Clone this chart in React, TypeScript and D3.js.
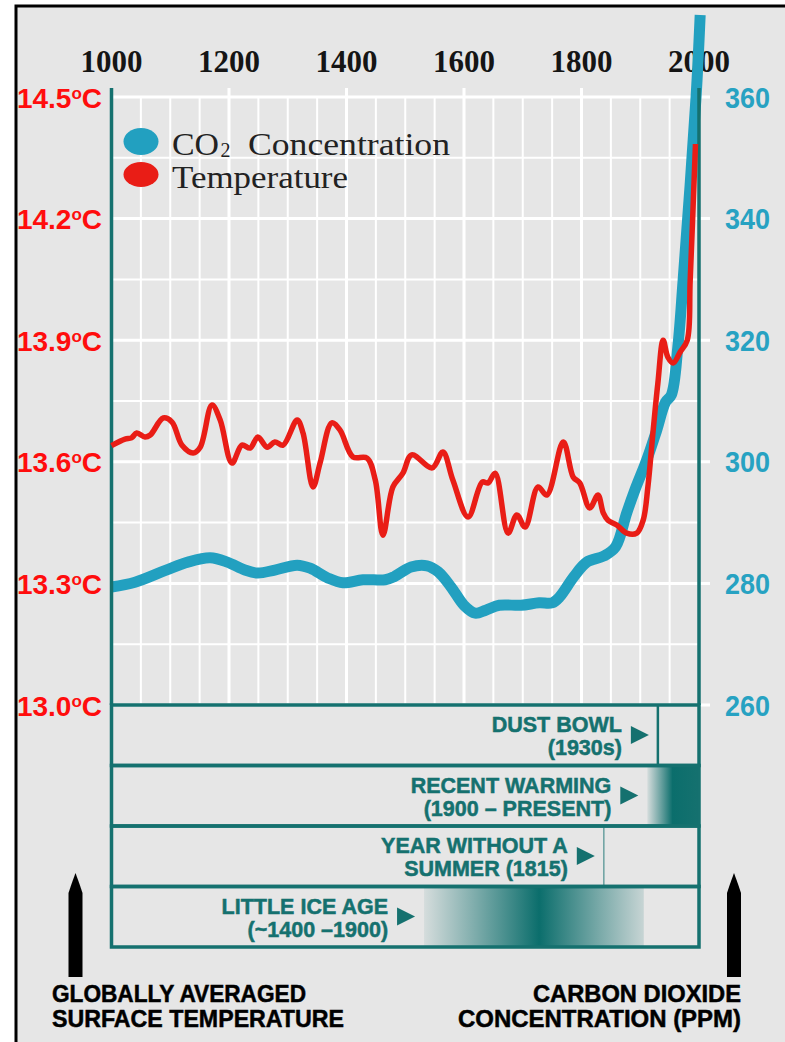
import React from 'react';
import * as d3 from 'd3';

// --- data ---
const yearTicks = [1000, 1200, 1400, 1600, 1800, 2000];
const tempTicks = [14.5, 14.2, 13.9, 13.6, 13.3, 13.0];
const co2Ticks = [360, 340, 320, 300, 280, 260];

const tempYears = [1000, 1023, 1034, 1043, 1057, 1066, 1088, 1103, 1120, 1139, 1151, 1171, 1185, 1205,
  1222, 1236, 1249, 1265, 1278, 1292, 1316, 1326, 1343, 1355, 1375, 1389, 1411, 1435, 1449, 1462,
  1479, 1496, 1511, 1546, 1564, 1581, 1607, 1631, 1641, 1653, 1675, 1690, 1704, 1726, 1741, 1769,
  1786, 1797, 1814, 1828, 1837, 1845, 1860, 1877, 1894, 1905, 1913, 1922, 1930, 1939, 1947, 1956,
  1968, 1980, 1985, 1994];
const tempValues = [13.64, 13.656, 13.659, 13.671, 13.661, 13.666, 13.708, 13.698, 13.641, 13.622,
  13.636, 13.74, 13.703, 13.597, 13.641, 13.634, 13.661, 13.636, 13.649, 13.641, 13.703, 13.671,
  13.538, 13.597, 13.696, 13.678, 13.612, 13.609, 13.555, 13.419, 13.538, 13.572, 13.617, 13.585,
  13.624, 13.555, 13.464, 13.55, 13.548, 13.572, 13.424, 13.469, 13.439, 13.538, 13.518, 13.649,
  13.562, 13.548, 13.486, 13.518, 13.474, 13.456, 13.444, 13.424, 13.424, 13.456, 13.538, 13.678,
  13.794, 13.9, 13.858, 13.844, 13.871, 13.9, 14.048, 14.384];

const co2Years = [1000, 1040, 1093, 1130, 1168, 1197, 1227, 1249, 1278, 1316, 1338, 1368, 1394, 1428,
  1466, 1481, 1510, 1537, 1556, 1578, 1600, 1619, 1637, 1660, 1697, 1728, 1750, 1763, 1787, 1809,
  1838, 1858, 1877, 1891, 1911, 1928, 1943, 1953, 1964, 1973, 1995, 2002];
const co2Values = [279.4, 280.2, 282.2, 283.5, 284.2, 283.5, 282.2, 281.7, 282.2, 283.0, 282.5, 280.9,
  280.1, 280.6, 280.6, 281.1, 282.7, 282.9, 281.9, 279.4, 276.4, 275.1, 275.6, 276.4, 276.4, 276.8,
  276.8, 277.8, 281.1, 283.5, 284.5, 286.0, 291.6, 295.4, 300.3, 305.2, 309.8, 311.0, 318.9, 329.9,
  360, 373.5];

const eventTitles = ['DUST BOWL', 'RECENT WARMING', 'YEAR WITHOUT A', 'LITTLE ICE AGE'];
const eventSubtitles = ['(1930s)', '(1900 \u2013 PRESENT)', 'SUMMER (1815)', '(~1400 \u20131900)'];
const eventKinds = ['line', 'band', 'line', 'band'];
const eventFrom = [1930, 1912, 1838, 1532];
const eventPeak = [1930, 1955, 1838, 1728];
const eventTo = [1930, 2000, 1838, 1906];
const eventEndOpacity = [1, 1, 1, 0.15];

const leftCaption = ['GLOBALLY AVERAGED', 'SURFACE TEMPERATURE'];
const rightCaption = ['CARBON DIOXIDE', 'CONCENTRATION (PPM)'];

const TEAL = '#15716f';
const BLUE = '#22a0c0';
const RED = '#e91d16';

export default function App() {
  const x = d3.scaleLinear().domain([1000, 2000]).range([111.5, 699]);
  const yT = d3.scaleLinear().domain([13, 14.5]).range([705, 97]);
  const yC = d3.scaleLinear().domain([260, 360]).range([705, 97]);

  const tempLine = d3.line<number>()
    .x((d, i) => x(tempYears[i]))
    .y((d) => yT(d))
    .curve(d3.curveCatmullRom.alpha(0.5));
  const co2Line = d3.line<number>()
    .x((d, i) => x(co2Years[i]))
    .y((d) => yC(d))
    .curve(d3.curveCatmullRom.alpha(0.5));

  const vGrid = d3.range(1050, 2000, 50);
  const hGrid = d3.range(260, 361, 10);
  const rowH = 60.5;
  const rowTop = (i: number) => 705 + i * rowH;
  const sans = 'Liberation Sans, Arial, sans-serif';
  const serif = 'Liberation Serif, serif';
  const pencil = (cx: number) =>
    `M${cx},873 L${cx + 4},884 L${cx + 7},893 L${cx + 7},977 L${cx - 7},977 L${cx - 7},893 L${cx - 4},884 Z`;

  return (
    <svg width={785} height={1042} style={{ position: 'absolute', left: 0, top: 0 }}>
      <defs>
        {eventKinds.map((k, i) => k === 'band' ? (
          <linearGradient key={i} id={`band${i}`} x1="0" x2="1" y1="0" y2="0">
            <stop offset="0" stopColor={TEAL} stopOpacity={0.08} />
            <stop offset={(eventPeak[i] - eventFrom[i]) / (eventTo[i] - eventFrom[i])} stopColor="#0b6e6c" stopOpacity={1} />
            <stop offset="1" stopColor={TEAL} stopOpacity={eventEndOpacity[i]} />
          </linearGradient>
        ) : null)}
      </defs>
      <rect x={16} y={6} width={800} height={1100} fill="#e6e6e6" stroke="#000" strokeWidth={3} />

      {/* grid */}
      {vGrid.map((yr) => (
        <line key={yr} x1={x(yr)} x2={x(yr)} y1={yr % 200 === 0 ? 88 : 97} y2={705}
          stroke="#fff" strokeWidth={yr % 200 === 0 ? 3 : 2} />
      ))}
      {hGrid.map((v) => (
        <line key={v} x1={x(1000)} x2={(v - 260) % 20 === 0 ? 710 : x(2000)} y1={yC(v)} y2={yC(v)}
          stroke="#fff" strokeWidth={(v - 260) % 20 === 0 ? 3 : 2} />
      ))}

      {/* x labels */}
      {yearTicks.map((yr) => (
        <text key={yr} x={x(yr)} y={72} textAnchor="middle" fontFamily={serif}
          fontWeight="bold" fontSize={31} fill="#151515">{yr}</text>
      ))}

      {/* left labels */}
      {tempTicks.map((t) => (
        <text key={t} x={102} y={yT(t) + 10.5} textAnchor="end" fontFamily={sans} fontWeight="bold"
          fontSize={28} fill="#ff0d0d">
          {t.toFixed(1)}<tspan fontSize={17} dy={-9}>o</tspan><tspan dy={9}>C</tspan>
        </text>
      ))}

      {/* right labels */}
      {co2Ticks.map((c) => (
        <text key={c} x={725} y={yC(c) + 10.5} fontFamily={sans} fontWeight="bold" fontSize={29}
          fill="#27a2c2" textLength={45} lengthAdjust="spacingAndGlyphs">{c}</text>
      ))}

      {/* CO2 */}
      <path d={co2Line(co2Values) || ''} fill="none" stroke={BLUE} strokeWidth={11} strokeLinejoin="round" />

      {/* axes */}
      <line x1={x(1000)} x2={x(1000)} y1={88} y2={705} stroke={TEAL} strokeWidth={3.5} />
      <line x1={x(2000)} x2={x(2000)} y1={88} y2={705} stroke={TEAL} strokeWidth={3.5} />

      {/* temperature */}
      <path d={tempLine(tempValues) || ''} fill="none" stroke={RED} strokeWidth={5.5} strokeLinejoin="round" />

      {/* legend */}
      <ellipse cx={141} cy={141.5} rx={17.5} ry={13.5} fill={BLUE} />
      <ellipse cx={141} cy={174.5} rx={17.5} ry={12.5} fill={RED} />
      <text x={172} y={154.5} fontFamily={serif} fontSize={32} fill="#222"
        textLength={47} lengthAdjust="spacingAndGlyphs">CO</text>
      <text x={220.5} y={157} fontFamily={serif} fontSize={20} fill="#222">2</text>
      <text x={248} y={154.5} fontFamily={serif} fontSize={32} fill="#222"
        textLength={202} lengthAdjust="spacingAndGlyphs">Concentration</text>
      <text x={172} y={188} fontFamily={serif} fontSize={32} fill="#222"
        textLength={176} lengthAdjust="spacingAndGlyphs">Temperature</text>

      {/* event rows */}
      {eventTitles.map((title, i) => {
        const top = rowTop(i);
        const textEnd = x(eventFrom[i]) - 36;
        return (
          <g key={title}>
            {eventKinds[i] === 'band' ? (
              <rect x={x(eventFrom[i])} y={top} width={x(eventTo[i]) - x(eventFrom[i])} height={rowH}
                fill={`url(#band${i})`} />
            ) : (
              <line x1={x(eventFrom[i])} x2={x(eventFrom[i])} y1={top} y2={top + rowH}
                stroke={TEAL} strokeWidth={i === 0 ? 2.5 : 1.5} strokeOpacity={i === 0 ? 1 : 0.6} />
            )}
            <rect x={x(1000)} y={top} width={x(2000) - x(1000)} height={rowH} fill="none"
              stroke={TEAL} strokeWidth={3.5} />
            <text textAnchor="end" fontFamily={sans} fontWeight="bold" fontSize={21.5} fill={TEAL}
              stroke={TEAL} strokeWidth={0.5}>
              <tspan x={textEnd} y={top + 27}>{title}</tspan>
              <tspan x={textEnd} y={top + 50}>{eventSubtitles[i]}</tspan>
            </text>
            <path d={`M${textEnd + 9},${top + 21} L${textEnd + 27},${top + 30} L${textEnd + 9},${top + 39} Z`}
              fill={TEAL} />
          </g>
        );
      })}

      {/* bottom arrows + captions */}
      <path d={pencil(75.5)} fill="#000" />
      <path d={pencil(734)} fill="#000" />
      <text fontFamily={sans} fontWeight="bold" fontSize={24} fill="#000" stroke="#000" strokeWidth={0.5}>
        <tspan x={52} y={1002} textLength={254} lengthAdjust="spacingAndGlyphs">{leftCaption[0]}</tspan>
        <tspan x={52} y={1027} textLength={292} lengthAdjust="spacingAndGlyphs">{leftCaption[1]}</tspan>
      </text>
      <text fontFamily={sans} fontWeight="bold" fontSize={24} fill="#000" stroke="#000" strokeWidth={0.5}>
        <tspan x={741 - 208} y={1002} textLength={208} lengthAdjust="spacingAndGlyphs">{rightCaption[0]}</tspan>
        <tspan x={741 - 283} y={1027} textLength={283} lengthAdjust="spacingAndGlyphs">{rightCaption[1]}</tspan>
      </text>
    </svg>
  );
}
